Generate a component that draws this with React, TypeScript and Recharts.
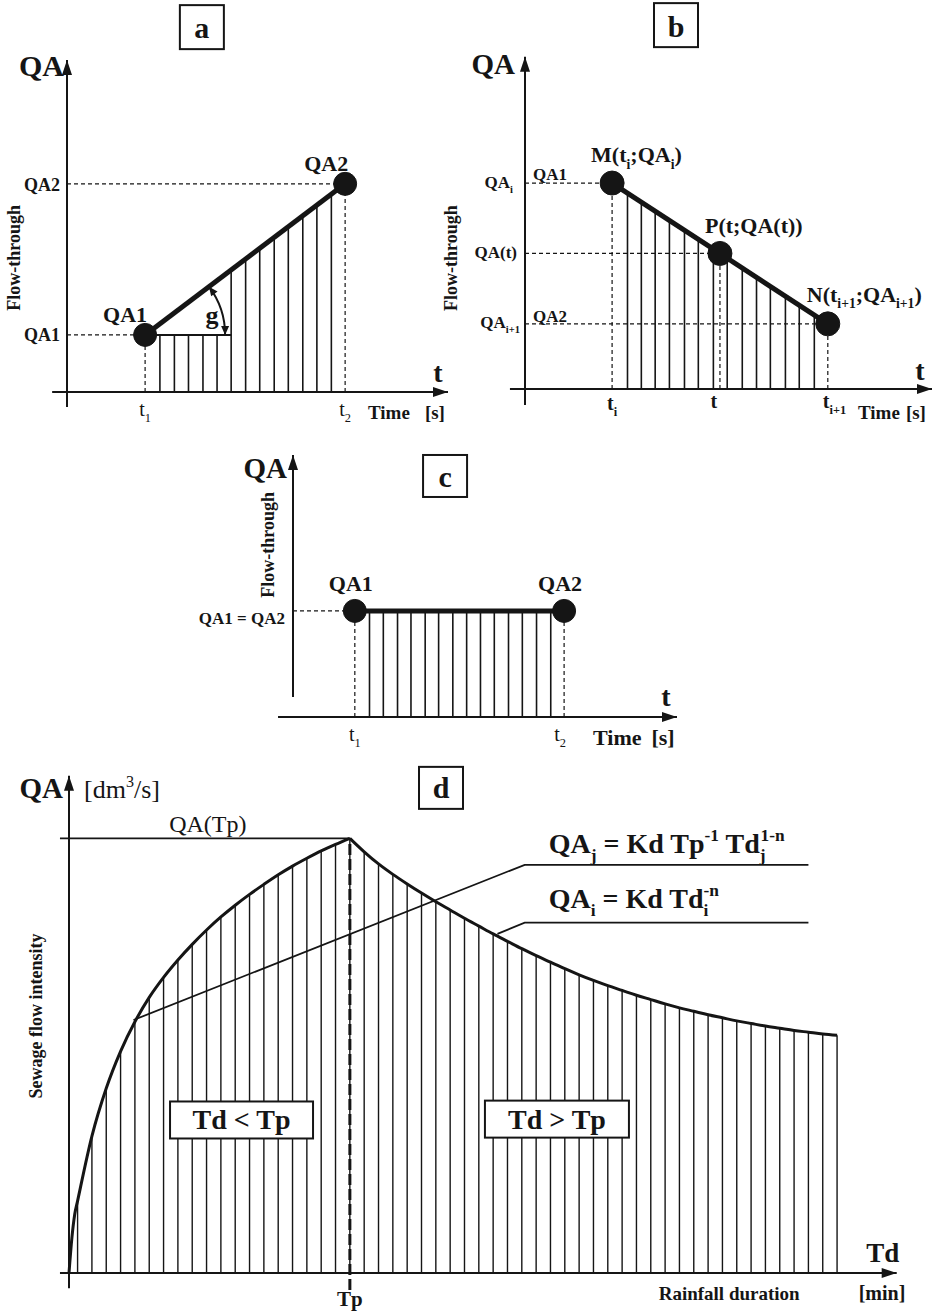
import React from "react";
import {
  Bar,
  ComposedChart,
  Line,
  ReferenceDot,
  ReferenceLine,
  XAxis,
  YAxis,
} from "recharts";

const INK = "#151515";
const SERIF = '"Liberation Serif", "Times New Roman", Times, serif';

// a: flow-through rising from QA1 to QA2
const aHatchTime = [24.4, 28.2, 31.9, 35.7, 39.4, 43.1, 46.9, 50.6, 54.4, 58.1, 61.9, 65.6, 69.4];
const aHatchFlow = [17.2, 17.2, 17.2, 17.2, 17.2, 36.8, 40.1, 43.3, 46.6, 49.8, 53.1, 56.3, 59.6];
const aPointTime = [20.5, 73.0];
const aPointFlow = [17.2, 62.7];

// b: falling between M and N, P in between
const bHatchTime = [25.1, 28.5, 31.9, 35.4, 39.1, 42.5, 46.2, 49.6, 53.3, 56.8, 60.2, 63.9, 67.3, 71.0];
const bHatchFlow = [59.6, 56.9, 54.1, 51.3, 48.3, 45.6, 42.6, 39.8, 36.8, 34.0, 31.3, 28.3, 25.5, 22.5];
const bPointTime = [21.4, 47.9, 74.4];
const bPointFlow = [62.6, 41.2, 19.8];

// c: constant flow
const cHatchTime = [19.9, 23.5, 27.2, 30.7, 34.4, 37.9, 41.6, 45.2, 48.8, 52.4, 56.1, 59.7, 63.4, 67.1];
const cHatchFlow = [40.8, 40.8, 40.8, 40.8, 40.8, 40.8, 40.8, 40.8, 40.8, 40.8, 40.8, 40.8, 40.8, 40.8];
const cPointTime = [16.1, 70.6];
const cPointFlow = [40.8, 40.8];

// d: sewage flow intensity vs rainfall duration
const dOnsetDur = [0, 0.2, 0.4];
const dOnsetFlow = [0, 8.0, 13.5];
const dHatchDur = [
  0.6, 1.6, 2.6, 3.6, 4.6, 5.6, 6.6, 7.6, 8.6, 9.6, 10.6, 11.6, 12.6, 13.6, 14.6, 15.6, 16.6, 17.6,
  18.6, 19.6, 20.6, 21.6, 22.6, 23.6, 24.6, 25.6, 26.6, 27.6, 28.6, 29.6, 30.6, 31.6, 32.6, 33.6,
  34.6, 35.6, 36.6, 37.6, 38.6, 39.6, 40.6, 41.6, 42.6, 43.6, 44.6, 45.6, 46.6, 47.6, 48.6, 49.6,
  50.6, 51.6, 52.6, 53.6,
];
const dHatchFlow = [
  16.6, 31.5, 42.5, 51.0, 57.8, 63.4, 68.0, 72.0, 75.6, 78.9, 81.9, 84.6, 87.1, 89.4, 91.6, 93.6,
  95.4, 97.1, 98.6, 100.0, 96.9, 94.1, 91.7, 89.5, 87.4, 85.4, 83.5, 81.6, 79.8, 78.0, 76.3, 74.6,
  73.0, 71.5, 70.0, 68.6, 67.3, 66.1, 65.0, 63.9, 62.9, 61.9, 61.0, 60.2, 59.4, 58.7, 58.0, 57.4,
  56.8, 56.3, 55.8, 55.4, 55.0, 54.7,
];
const dPeakDur = 19.6;
const dPeakFlow = 100;
const dLeaderJDur = [4.5, 31.8, 51.6];
const dLeaderJFlow = [58.2, 93.9, 93.9];
const dLeaderIDur = [29.9, 31.8, 51.6];
const dLeaderIFlow = [78.0, 80.6, 80.6];

type Frame = {
  left: number;
  top: number;
  width: number;
  height: number;
  ox: number;
  oy: number;
  kx: number;
  ky: number;
};

const FA: Frame = { left: 0, top: 0, width: 470, height: 440, ox: 67, oy: 392, kx: 3.81, ky: 3.32 };
const FB: Frame = { left: 430, top: 0, width: 512, height: 440, ox: 525, oy: 389, kx: 4.07, ky: 3.29 };
const FC: Frame = { left: 170, top: 440, width: 540, height: 320, ox: 293, oy: 717, kx: 3.84, ky: 2.6 };
const FD: Frame = { left: 0, top: 755, width: 942, height: 561, ox: 69, oy: 1273, kx: 14.33, ky: 4.347 };

const xDomain = (f: Frame) => [(f.left - f.ox) / f.kx, (f.left + f.width - f.ox) / f.kx];
const yDomain = (f: Frame) => [(f.oy - f.top - f.height) / f.ky, (f.oy - f.top) / f.ky];

const rows = (xs: number[], ys: number[]) => xs.map((x, i) => ({ x, q: ys[i] }));

type Part = { t: string; k?: "sub" | "sup"; dx?: number };

function rich(parts: Part[], size: number) {
  let level = 0;
  return parts.map((p, i) => {
    const target = p.k === "sub" ? size * 0.3 : p.k === "sup" ? -size * 0.42 : 0;
    const dy = target - level;
    level = target;
    return (
      <tspan key={i} dy={dy} dx={p.dx ?? 0} fontSize={p.k ? size * 0.62 : size}>
        {p.t}
      </tspan>
    );
  });
}

type NoteOpts = {
  dx?: number;
  dy?: number;
  size?: number;
  bold?: boolean;
  anchor?: "start" | "middle" | "end";
  rotate?: number;
};

function note(key: string, x: number, y: number, body: React.ReactNode, o: NoteOpts = {}) {
  const { dx = 0, dy = 0, size = 18, bold = true, anchor = "middle", rotate } = o;
  return (
    <ReferenceDot
      key={key}
      x={x}
      y={y}
      r={0}
      ifOverflow="visible"
      shape={(p: any) => {
        const tx = p.cx + dx;
        const ty = p.cy + dy;
        return (
          <text
            x={tx}
            y={ty}
            fontFamily={SERIF}
            fontSize={size}
            fontWeight={bold ? 700 : 400}
            fill={INK}
            textAnchor={anchor}
            dominantBaseline={rotate ? "central" : undefined}
            transform={rotate ? `rotate(${rotate} ${tx} ${ty})` : undefined}
            style={{ whiteSpace: "pre" }}
          >
            {body}
          </text>
        );
      }}
    />
  );
}

function boxNote(key: string, x: number, y: number, w: number, h: number, body: string, size: number, base: number) {
  return (
    <ReferenceDot
      key={key}
      x={x}
      y={y}
      r={0}
      ifOverflow="visible"
      shape={(p: any) => (
        <g>
          <rect x={p.cx - w / 2} y={p.cy - h / 2} width={w} height={h} fill="#fff" stroke={INK} strokeWidth={2} />
          <text
            x={p.cx}
            y={p.cy + base}
            textAnchor="middle"
            fontFamily={SERIF}
            fontWeight={700}
            fontSize={size}
            fill={INK}
            style={{ whiteSpace: "pre" }}
          >
            {body}
          </text>
        </g>
      )}
    />
  );
}

function head(x: number, y: number, ux: number, uy: number, len: number, half: number) {
  const bx = x - ux * len;
  const by = y - uy * len;
  const nx = -uy * half;
  const ny = ux * half;
  return <path d={`M${x},${y} L${bx + nx},${by + ny} L${bx - nx},${by - ny} Z`} fill={INK} />;
}

function arrowHead(key: string, x: number, y: number, dir: "up" | "right") {
  return (
    <ReferenceDot
      key={key}
      x={x}
      y={y}
      r={0}
      ifOverflow="visible"
      shape={(p: any) => (dir === "up" ? head(p.cx, p.cy, 0, -1, 15, 5) : head(p.cx, p.cy, 1, 0, 15, 5))}
    />
  );
}

function seg(key: string, x1: number, y1: number, x2: number, y2: number, dashed = false, width = 2) {
  return (
    <ReferenceLine
      key={key}
      segment={[
        { x: x1, y: y1 },
        { x: x2, y: y2 },
      ]}
      stroke={INK}
      strokeWidth={dashed ? 1.2 : width}
      strokeDasharray={dashed ? "4 3" : undefined}
      ifOverflow="visible"
    />
  );
}

function Panel({ f, data, children }: { f: Frame; data: any[]; children: React.ReactNode }) {
  return (
    <div style={{ position: "absolute", left: f.left, top: f.top }}>
      <ComposedChart
        width={f.width}
        height={f.height}
        data={data}
        margin={{ top: 0, right: 0, bottom: 0, left: 0 }}
      >
        <XAxis type="number" dataKey="x" domain={xDomain(f)} hide allowDataOverflow />
        <YAxis type="number" domain={yDomain(f)} hide allowDataOverflow />
        {children}
      </ComposedChart>
    </div>
  );
}

const dotStyle = { r: 11.5, fill: INK, stroke: INK, strokeWidth: 1 };

function PanelA() {
  const [t1, t2] = aPointTime;
  const [q1, q2] = aPointFlow;
  const slope = Math.atan2((q2 - q1) * FA.ky, (t2 - t1) * FA.kx);
  return (
    <Panel f={FA} data={rows(aHatchTime, aHatchFlow)}>
      {seg("g1", 0, q2, t2, q2, true)}
      {seg("g2", 0, q1, t1, q1, true)}
      {seg("g3", t1, 0, t1, q1, true)}
      {seg("g4", t2, 0, t2, q2, true)}
      {seg("ax", -3.9, 0, 100, 0)}
      {seg("ay", 0, -4.5, 0, 100)}
      {arrowHead("axh", 100, 0, "right")}
      {arrowHead("ayh", 0, 100, "up")}
      <Bar dataKey="q" fill={INK} barSize={1.6} isAnimationActive={false} />
      {seg("base", t1, q1, aHatchTime[5], q1, false, 2)}
      <Line
        data={rows(aPointTime, aPointFlow)}
        dataKey="q"
        type="linear"
        stroke={INK}
        strokeWidth={5}
        dot={dotStyle}
        activeDot={false}
        isAnimationActive={false}
      />
      <ReferenceDot
        x={t1}
        y={q1}
        r={0}
        ifOverflow="visible"
        shape={(p: any) => {
          const R = 80;
          const x1 = p.cx + R * Math.cos(slope);
          const y1 = p.cy - R * Math.sin(slope);
          const x2 = p.cx + R;
          const y2 = p.cy;
          return (
            <g>
              <path d={`M${x1},${y1} A${R},${R} 0 0 1 ${x2},${y2}`} fill="none" stroke={INK} strokeWidth={2} />
              {head(x1, y1, -Math.sin(slope), -Math.cos(slope), 9, 4)}
              {head(x2, y2, 0, 1, 9, 4)}
            </g>
          );
        }}
      />
      {boxNote("box", 35.4, 109.9, 44, 44, "a", 30, 11)}
      {note("qa", 0, 100, "QA", { dx: -3, dy: 16, size: 30, anchor: "end" })}
      {note("flow", 0, 40.4, "Flow-through", { dx: -53, size: 18, rotate: -90 })}
      {note("tq2", 0, q2, "QA2", { dx: -7, dy: 7, size: 18, anchor: "end" })}
      {note("tq1", 0, q1, "QA1", { dx: -7, dy: 6, size: 18, anchor: "end" })}
      {note("pq1", t1, q1, "QA1", { dx: -20, dy: -13, size: 22 })}
      {note("pq2", t2, q2, "QA2", { dx: -19, dy: -13, size: 22 })}
      {note("g", t1, q1, "g", { dx: 67, dy: -11, size: 26 })}
      {note("t1", t1, 0, rich([{ t: "t" }, { t: "1", k: "sub" }], 20), { dy: 24, size: 20, bold: false })}
      {note("t2", t2, 0, rich([{ t: "t" }, { t: "2", k: "sub" }], 20), { dy: 24, size: 20, bold: false })}
      {note("tax", 100, 0, "t", { dx: -10, dy: -10, size: 28 })}
      {note("time", 100, 0, rich([{ t: "Time" }, { t: "[s]", dx: 15 }], 19), { dx: -80, dy: 27, size: 19, anchor: "start" })}
    </Panel>
  );
}

function PanelB() {
  const [tm, tp, tn] = bPointTime;
  const [qm, qp, qn] = bPointFlow;
  return (
    <Panel f={FB} data={rows(bHatchTime, bHatchFlow)}>
      {seg("g1", 0, qm, tm, qm, true)}
      {seg("g2", 0, qp, tp, qp, true)}
      {seg("g3", 0, qn, tn, qn, true)}
      {seg("g4", tm, 0, tm, qm, true)}
      {seg("g5", tp, 0, tp, qp, true)}
      {seg("g6", tn, 0, tn, qn, true)}
      {seg("ax", -3.7, 0, 100, 0)}
      {seg("ay", 0, -4.9, 0, 101)}
      {arrowHead("axh", 100, 0, "right")}
      {arrowHead("ayh", 0, 101, "up")}
      <Bar dataKey="q" fill={INK} barSize={1.6} isAnimationActive={false} />
      <Line
        data={rows(bPointTime, bPointFlow)}
        dataKey="q"
        type="linear"
        stroke={INK}
        strokeWidth={5}
        dot={{ ...dotStyle, r: 12 }}
        activeDot={false}
        isAnimationActive={false}
      />
      {boxNote("box", 37.1, 110.6, 44, 44, "b", 30, 12)}
      {note("qa", 0, 101, "QA", { dx: -10, dy: 17, size: 29, anchor: "end" })}
      {note("flow", 0, 39.8, "Flow-through", { dx: -74, size: 18, rotate: -90 })}
      {note("lqi", 0, qm, rich([{ t: "QA" }, { t: "i", k: "sub" }], 17), { dx: -12, dy: 5, size: 17, anchor: "end" })}
      {note("lq1", 0, qm, "QA1", { dx: 8, dy: -3, size: 17, anchor: "start" })}
      {note("lqt", 0, qp, "QA(t)", { dx: -8, dy: 5, size: 17, anchor: "end" })}
      {note("lqi1", 0, qn, rich([{ t: "QA" }, { t: "i+1", k: "sub" }], 17), { dx: -5, dy: 4, size: 17, anchor: "end" })}
      {note("lq2", 0, qn, "QA2", { dx: 8, dy: -2, size: 17, anchor: "start" })}
      {note(
        "pm",
        tm,
        qm,
        rich([{ t: "M(t" }, { t: "i", k: "sub" }, { t: ";QA" }, { t: "i", k: "sub" }, { t: ")" }], 22),
        { dx: -21, dy: -21, size: 22, anchor: "start" }
      )}
      {note("pp", tp, qp, "P(t;QA(t))", { dx: -15, dy: -20, size: 22, anchor: "start" })}
      {note(
        "pn",
        tn,
        qn,
        rich([{ t: "N(t" }, { t: "i+1", k: "sub" }, { t: ";QA" }, { t: "i+1", k: "sub" }, { t: ")" }], 22),
        { dx: -21, dy: -22, size: 22, anchor: "start" }
      )}
      {note("ti", tm, 0, rich([{ t: "t" }, { t: "i", k: "sub" }], 20), { dy: 21, size: 20 })}
      {note("tt", tp, 0, "t", { dx: -6, dy: 19, size: 20 })}
      {note("ti1", tn, 0, rich([{ t: "t" }, { t: "i+1", k: "sub" }], 20), { dx: -5, dy: 19, size: 20, anchor: "start" })}
      {note("tax", 100, 0, "t", { dx: -12, dy: -9, size: 28 })}
      {note("time", 100, 0, rich([{ t: "Time" }, { t: "[s]", dx: 6 }], 19), { dx: -74, dy: 30, size: 19, anchor: "start" })}
    </Panel>
  );
}

function PanelC() {
  const [t1, t2] = cPointTime;
  const [q1, q2] = cPointFlow;
  return (
    <Panel f={FC} data={rows(cHatchTime, cHatchFlow)}>
      {seg("g1", 0, q1, t1, q1, true)}
      {seg("g2", t1, 0, t1, q1, true)}
      {seg("g3", t2, 0, t2, q2, true)}
      {seg("ax", -3.9, 0, 100, 0)}
      {seg("ay", 0, 7.7, 0, 100.8)}
      {arrowHead("axh", 100, 0, "right")}
      {arrowHead("ayh", 0, 100.8, "up")}
      <Bar dataKey="q" fill={INK} barSize={1.6} isAnimationActive={false} />
      <Line
        data={rows(cPointTime, cPointFlow)}
        dataKey="q"
        type="linear"
        stroke={INK}
        strokeWidth={5}
        dot={dotStyle}
        activeDot={false}
        isAnimationActive={false}
      />
      {boxNote("box", 39.6, 92.7, 44, 42, "c", 30, 11)}
      {note("qa", 0, 100.8, "QA", { dx: -6, dy: 23, size: 29, anchor: "end" })}
      {note("flow", 0, 66.2, "Flow-through", { dx: -24.5, size: 18, rotate: -90 })}
      {note("eq", 0, q1, "QA1 = QA2", { dx: -8, dy: 13, size: 17, anchor: "end" })}
      {note("pq1", t1, q1, "QA1", { dx: -4, dy: -20, size: 22 })}
      {note("pq2", t2, q2, "QA2", { dx: -4, dy: -20, size: 22 })}
      {note("t1", t1, 0, rich([{ t: "t" }, { t: "1", k: "sub" }], 20), { dy: 24, size: 20, bold: false })}
      {note("t2", t2, 0, rich([{ t: "t" }, { t: "2", k: "sub" }], 20), { dx: -4, dy: 24, size: 20, bold: false })}
      {note("tax", 100, 0, "t", { dx: -11, dy: -11, size: 28 })}
      {note("time", 100, 0, rich([{ t: "Time" }, { t: "[s]", dx: 10 }], 22), { dx: -84, dy: 28, size: 22, anchor: "start" })}
    </Panel>
  );
}

function PanelD() {
  const hatch = rows(dHatchDur, dHatchFlow);
  const rising = rows(dOnsetDur, dOnsetFlow).concat(hatch.filter((r) => r.x <= dPeakDur));
  const falling = hatch.filter((r) => r.x >= dPeakDur);
  const eqSize = 28;
  return (
    <Panel f={FD} data={hatch}>
      {seg("ax", -0.63, 0, 57.76, 0)}
      {seg("ay", 0, -3.5, 0, 114.4)}
      {arrowHead("axh", 57.76, 0, "right")}
      {arrowHead("ayh", 0, 114.4, "up")}
      <Bar dataKey="q" fill={INK} barSize={1.4} isAnimationActive={false} />
      <Line data={rising} dataKey="q" type="monotone" stroke={INK} strokeWidth={3} dot={false} activeDot={false} isAnimationActive={false} />
      <Line data={falling} dataKey="q" type="monotone" stroke={INK} strokeWidth={3} dot={false} activeDot={false} isAnimationActive={false} />
      <Line data={rows(dLeaderJDur, dLeaderJFlow)} dataKey="q" type="linear" stroke={INK} strokeWidth={1.8} dot={false} activeDot={false} isAnimationActive={false} />
      <Line data={rows(dLeaderIDur, dLeaderIFlow)} dataKey="q" type="linear" stroke={INK} strokeWidth={1.8} dot={false} activeDot={false} isAnimationActive={false} />
      {seg("peak", -0.63, dPeakFlow, dPeakDur, dPeakFlow, false, 1.8)}
      <ReferenceLine
        segment={[
          { x: dPeakDur, y: -3.9 },
          { x: dPeakDur, y: dPeakFlow },
        ]}
        stroke={INK}
        strokeWidth={3}
        strokeDasharray="11 4"
        ifOverflow="visible"
      />
      {boxNote("lt", 12.04, 35.2, 143, 37, "Td < Tp", 28, 9.5)}
      {boxNote("gt", 34.05, 35.4, 144, 37, "Td > Tp", 28, 9.5)}
      {boxNote("box", 25.96, 111.6, 44, 42, "d", 30, 10)}
      {note("qa", 0, 114.4, "QA", { dx: -6, dy: 22, size: 29, anchor: "end" })}
      {note("unit", 0, 114.4, rich([{ t: "[dm" }, { t: "3", k: "sup" }, { t: "/s]" }], 26), { dx: 15, dy: 22, size: 26, bold: false, anchor: "start" })}
      {note("qatp", dPeakDur, dPeakFlow, "QA(Tp)", { dx: -142, dy: -6, size: 24, bold: false })}
      {note(
        "eqj",
        dLeaderJDur[1],
        dLeaderJFlow[1],
        rich(
          [
            { t: "QA" },
            { t: "j", k: "sub" },
            { t: " = Kd Tp" },
            { t: "-1", k: "sup" },
            { t: " Td" },
            { t: "j", k: "sub" },
            { t: "1-n", k: "sup", dx: -5 },
          ],
          eqSize
        ),
        { dx: 24, dy: -12, size: eqSize, anchor: "start" }
      )}
      {note(
        "eqi",
        dLeaderIDur[1],
        dLeaderIFlow[1],
        rich(
          [
            { t: "QA" },
            { t: "i", k: "sub" },
            { t: " = Kd Td" },
            { t: "i", k: "sub" },
            { t: "-n", k: "sup", dx: -5 },
          ],
          eqSize
        ),
        { dx: 24, dy: -15, size: eqSize, anchor: "start" }
      )}
      {note("sewage", 0, 59.1, "Sewage flow intensity", { dx: -33, size: 18, rotate: -90 })}
      {note("td", 57.76, 0, "Td", { dx: -14, dy: -11, size: 27 })}
      {note("rain", 57.76, 0, "Rainfall duration", { dx: -238, dy: 27, size: 19, anchor: "start" })}
      {note("min", 57.76, 0, "[min]", { dx: -38, dy: 27, size: 20, anchor: "start" })}
      {note("tp", dPeakDur, 0, "Tp", { dy: 33, size: 21 })}
    </Panel>
  );
}

export default function App() {
  return (
    <div style={{ position: "relative", width: 942, height: 1316, background: "#fff", overflow: "hidden" }}>
      <style>{"body{margin:0;background:#fff}"}</style>
      <PanelA />
      <PanelB />
      <PanelC />
      <PanelD />
    </div>
  );
}
